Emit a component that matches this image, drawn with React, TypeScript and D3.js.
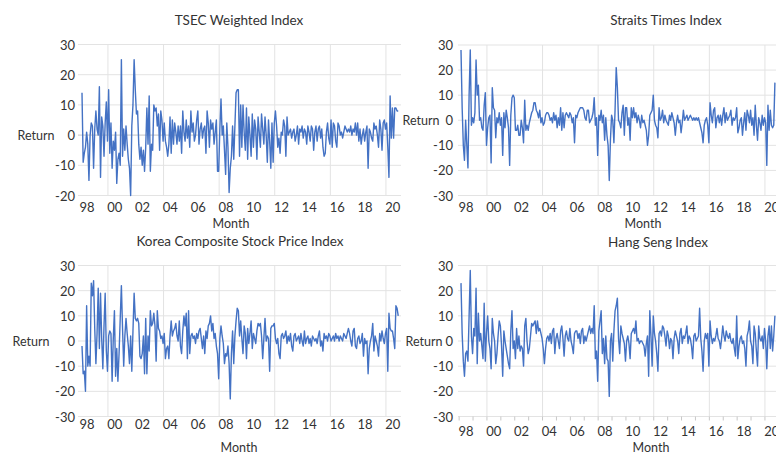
import React from "react";
import * as d3 from "d3";

// Monthly returns (%)
const tsecReturns: number[] = [
  14, -9, -6, -4, 1, -3, -15, 0, 4, 3, -11, 2,
  8, 2, 0, 16, -14, 6, 3, -7, 4, 11, -2, 15,
  -6, 4, -11, -2, -5, 1, -16, -8, -6, -10, 25, -7,
  2, -5, 3, -3, -8, -11, -20, 3, 10, 25, 15, 7,
  8, -3, -8, -4, -10, -5, -12, -4, 9, -3, 13, -12,
  -3, -5, 10, 8, 9, 3, 7, -5, 8, 5, -2, 4,
  -2, -4, -7, -3, 6, -6, 5, -3, 4, 1, -3, 3,
  -2, 3, -6, 8, 1, -2, 5, -1, 3, -4, 8, 1,
  4, -2, 0, 5, 8, -3, 2, 4, -1, 2, 3, -6,
  8, 4, -4, 5, 2, 4, -3, 1, 5, -12, -12, 2,
  12, 0, 3, -5, -13, 4, -4, -19, -11, -7, 3, -8,
  3, 14, 15, 15, -7, 10, -4, 10, 1, -5, 9, -8,
  6, 0, -7, 7, -4, 5, 2, -8, 6, 1, -4, 7,
  2, -3, 6, 0, -9, 5, -2, -11, 4, -9, 4, 8,
  3, -4, -1, -6, 1, 0, 5, 3, -7, 6, 0, 1,
  2, -1, 1, 2, -2, 0, 3, -3, 2, 1, 3, -1,
  2, 1, -3, 3, 1, -2, 3, 2, -5, 1, 3, -2,
  2, 3, -1, 2, -4, -7, -6, 1, 4, -1, -3, 5,
  -4, 4, 3, -2, -4, 4, 3, 0, 1, -1, 1, 3,
  2, 1, 2, 1, 3, 0, 2, 1, 4, 0, 4, -2,
  2, -3, 0, 2, -2, 1, 3, -11, 2, 1, -1, -2,
  4, 2, 3, 0, -4, 5, 2, -5, 4, 5, 2, 4,
  -4, -14, 13, -1, 9, -1, 9, 9, 8, 8,
];

const straitsReturns: number[] = [
  28, 5, -10, -16, 0, -10, -19, 10, 28, -2, 1, -1,
  3, 24, 10, 14, 0, 1, -3, -4, 6, 11, -10, -3,
  1, 2, -17, 13, 5, 4, -7, 1, -1, 3, -2, 1,
  -14, 3, -3, 4, 1, -3, -18, 2, 9, 10, 9, -4,
  -4, -2, -6, -6, 0, -3, -9, 8, -4, -2, -4, -1,
  1, 3, 4, 7, 7, 4, 3, 1, 4, -1, 1, -2,
  -1, 2, 3, 3, 2, 0, 1, -1, 3, 0, 2, -3,
  1, -2, 5, -4, 3, -3, 2, 3, 2, 1, 3, 2,
  -1, 1, -9, 2, 1, 3, 4, 5, 5, 5, 4, 1,
  0, 4, 4, -1, 0, 1, 3, 9, -2, 1, -14, 2,
  0, 4, -1, 2, -8, 1, -6, -10, -24, -8, 2, 0,
  -9, 4, 21, 13, 0, -1, -3, 3, 6, -6, 5, 5,
  -2, 1, -8, 5, 1, 5, 1, 3, -1, 2, 0, -3,
  2, -1, 0, -2, -4, -10, -6, 2, 3, 4, 10, 0,
  -2, -3, -7, 5, 0, 1, 4, -1, 2, 0, -1, -2,
  2, 0, 3, 1, -1, -6, -1, 2, -1, 0, -5, -1,
  4, 0, 1, 2, 0, 1, 2, 1, 0, 1, 0, 1,
  0, 1, -1, -3, -5, -9, -2, 0, 1, -2, -9, 7,
  2, -1, 4, 5, -3, 1, 2, -1, 2, -2, 2, 5,
  -1, 3, 0, 1, 2, 4, -2, 1, 0, 1, 5, -5,
  -3, 0, 1, -6, -1, 3, -4, 4, 2, -1, 4, -2,
  1, -6, 6, -2, -8, 1, -1, -4, 2, -2, 1, -1,
  -18, 6, -4, 4, -2, -3, -2, 15,
];

const koreaReturns: number[] = [
  -2, -13, -12, -20, 14, -10, -6, -10, 23, 18, 24, 5,
  -9, 3, 21, -3, 19, 1, -11, 6, 19, -4, -12, 2,
  4, 3, -16, 1, 12, -14, -3, -16, -5, 9, 22, 5,
  -10, 2, 9, 3, -2, -9, 2, -12, 4, 19, 9, 8,
  9, 7, -6, -7, -5, 2, -13, 9, -13, 2, -4, 12,
  6, 7, 11, 6, -8, 12, 5, 4, 1, 2, -1, 3,
  -7, -3, -2, -7, 2, 8, 2, 4, 5, 7, 2, 0,
  8, -2, -5, 4, 10, 6, 11, -7, 12, -5, 2, 3,
  1, 2, -1, 3, 1, 4, 5, 1, -3, 2, -5, 4,
  1, 6, 7, 10, 4, 7, 1, 3, -2, -5, -15, 1,
  6, 2, -1, -9, -5, -6, -2, -9, -23, -5, 4, -9,
  2, 8, 13, 12, 2, 8, 1, -5, 6, 3, -7, 5,
  -1, 3, 8, -3, 3, 1, -1, 4, 7, 6, 7, 2,
  -7, 1, 9, 0, 2, 1, -12, 5, 6, 6, 7, 1,
  -1, 1, -5, -7, 2, 3, 1, 2, 4, -1, 2, 0,
  3, -2, -4, 2, 3, 0, 1, 2, -1, 3, 0, -2,
  4, -1, 1, 2, -1, 1, -2, 2, 1, 0, 1, -1,
  2, 4, -2, 0, -4, 3, 1, 2, 0, 3, 2, 0,
  1, 2, 0, 3, 1, 2, 0, 2, 1, 0, 3, 2,
  1, 3, 5, 3, 0, -2, 4, 5, -2, -3, 1, 2,
  -1, 0, 3, -6, 1, -1, 0, -13, -3, 0, 2, 7,
  -4, 2, 0, -2, -6, 3, 0, 4, 1, -1, 3, 5,
  -12, 11, 5, 4, 4, 1, -3, 14, 13, 10,
];

const hangSengReturns: number[] = [
  23, 3, -8, -14, -5, -4, -8, 10, 28, 2, -5, 5,
  2, 21, -9, 11, 0, 3, -2, -7, 15, -8, 3, 10,
  0, -3, -11, 9, 3, 0, -9, -5, 2, 8, 6, -2,
  -14, 4, 0, -3, -6, -9, -11, 4, 12, -3, 0, -7,
  5, -3, 2, -4, -2, -3, -10, 6, 9, 0, -5, -3,
  2, 7, 6, 7, 8, 3, 8, 4, 5, 3, 1, -3,
  -9, -3, 1, 2, 0, 3, -1, 4, 5, -5, 1, 3,
  0, -3, 4, 6, 1, -6, 2, 4, 1, 0, 5, 0,
  -2, -5, 3, 4, 4, 1, 3, -1, 4, 5, -1, 2,
  0, 2, 4, 6, 3, 5, 3, 14, -7, -4, -16, 4,
  8, 12, -5, 1, -9, 2, -7, -8, -22, 0, 3, -8,
  4, 12, 14, 17, 1, -5, 6, 3, 1, -1, -8, 0,
  2, -1, -7, 3, 4, 5, 3, 8, 0, 1, -1, 0,
  0, -1, -2, -6, -1, 2, -14, 12, 2, -10, 10, 3,
  0, -5, -12, 3, 4, 2, 6, 5, 2, -2, 4, 2,
  -3, 1, 0, -7, 1, 4, 2, 0, -5, 3, 5, -1,
  2, 1, 3, 6, -1, 2, 1, -2, -7, 2, 3, 0,
  1, 2, 13, 1, -4, -12, 0, 3, 1, 3, -10, 8,
  2, -1, 1, 0, 2, 5, 1, 0, -3, 1, 6, 2,
  0, 4, 2, 1, 3, 0, -1, 1, -3, -6, 10, -7,
  -2, 1, 2, -1, 0, -3, -10, 2, 4, 8, 0, -2,
  -9, 6, 3, -4, -10, 6, 1, 0, 2, -3, 5, 0,
  -11, 2, 6, -3, 6, -4, 2, 10,
];

const yearLabels = ["98", "00", "02", "04", "06", "08", "10", "12", "14", "16", "18", "20"];
const ticksNarrow = [-20, -10, 0, 10, 20, 30];
const ticksWide = [-30, -20, -10, 0, 10, 20, 30];

const FONT = "Lato, 'Liberation Sans', Arial, sans-serif";
const LINE_COLOR = "#4472c4";
const GRID = "#e3e3e3";
const TEXT = "#333333";

type PanelProps = {
  id: string;
  title: string;
  data: number[];
  x0: number;
  gridLeft: number;
  clipRight: number;
  yMin: number;
  yMax: number;
  yTop: number;
  yBottom: number;
  ticks: number[];
  tickLabelX: number;
  titleX: number;
  titleY: number;
  returnX: number;
  xLabelY: number;
  monthX: number;
  monthY: number;
  zeroDark?: boolean;
  minorTicks?: boolean;
};

function Panel(p: PanelProps) {
  const x = d3.scaleLinear().domain([0, 48]).range([p.x0, p.x0 + 55.6]);
  const y = d3.scaleLinear().domain([p.yMin, p.yMax]).range([p.yBottom, p.yTop]);
  const path = d3
    .line<number>()
    .x((_, i) => x(i))
    .y((d) => y(d))(p.data) as string;
  const gridMonths = d3.range(6).map((k) => 22.4 + 48 * k);
  const labelMonths = yearLabels.map((_, k) => 4.3 + 24 * k);
  const minorMonths = d3.range(24).map((k) => -1.6 + 12 * k).filter((m) => x(m) < p.clipRight);
  return (
    <g>
      <defs>
        <clipPath id={p.id}>
          <rect x={0} y={0} width={p.clipRight} height={453} />
        </clipPath>
      </defs>
      <g clipPath={`url(#${p.id})`}>
        {p.ticks.map((t) => (
          <line
            key={"h" + t}
            x1={p.gridLeft}
            x2={p.clipRight}
            y1={y(t)}
            y2={y(t)}
            stroke={t === 0 && p.zeroDark ? "#c4c4c4" : GRID}
            strokeWidth={1}
          />
        ))}
        {gridMonths.map((m) => (
          <line key={"v" + m} x1={x(m)} x2={x(m)} y1={y(p.yMax)} y2={y(p.yMin)} stroke={GRID} strokeWidth={1} />
        ))}
        {p.minorTicks &&
          minorMonths.map((m) => (
            <line key={"t" + m} x1={x(m)} x2={x(m)} y1={y(p.yMin)} y2={y(p.yMin) + 4} stroke="#c8c8c8" strokeWidth={1} />
          ))}
        <path d={path} fill="none" stroke={LINE_COLOR} strokeWidth={1.4} strokeLinejoin="round" />
      </g>
      {p.ticks.map((t) => (
        <text
          key={"l" + t}
          x={p.tickLabelX}
          y={y(t)}
          textAnchor="end"
          dominantBaseline="central"
          fontSize={13}
          fill={TEXT}
          fontFamily={FONT}
        >
          {t}
        </text>
      ))}
      {yearLabels.map((lab, k) => (
        <text
          key={"x" + lab}
          x={x(labelMonths[k])}
          y={p.xLabelY}
          textAnchor="middle"
          dominantBaseline="central"
          fontSize={13}
          fill={TEXT}
          fontFamily={FONT}
        >
          {lab}
        </text>
      ))}
      <text x={p.titleX} y={p.titleY} textAnchor="middle" dominantBaseline="central" fontSize={13.5} fill={TEXT} fontFamily={FONT}>
        {p.title}
      </text>
      <text x={p.returnX} y={y(0)} textAnchor="middle" dominantBaseline="central" fontSize={12.5} fill={TEXT} fontFamily={FONT}>
        Return
      </text>
      <text x={p.monthX} y={p.monthY} textAnchor="middle" dominantBaseline="central" fontSize={12.5} fill={TEXT} fontFamily={FONT}>
        Month
      </text>
    </g>
  );
}

export default function App() {
  return (
    <svg
      width={776}
      height={453}
      viewBox="0 0 776 453"
      style={{ position: "absolute", left: 0, top: 0, background: "#ffffff" }}
    >
      <rect x={0} y={0} width={776} height={453} fill="#ffffff" />
      <Panel
        id="c1"
        title="TSEC Weighted Index"
        data={tsecReturns}
        x0={82}
        gridLeft={78}
        clipRight={401}
        yMin={-20}
        yMax={30}
        yTop={44.5}
        yBottom={195.5}
        ticks={ticksNarrow}
        tickLabelX={75}
        titleX={239}
        titleY={20}
        returnX={36}
        xLabelY={207}
        monthX={231}
        monthY={223}
        zeroDark
      />
      <Panel
        id="c2"
        title="Straits Times Index"
        data={straitsReturns}
        x0={461}
        gridLeft={458}
        clipRight={776}
        yMin={-30}
        yMax={30}
        yTop={45}
        yBottom={195.5}
        ticks={ticksWide}
        tickLabelX={453}
        titleX={666}
        titleY={20}
        returnX={421}
        xLabelY={207}
        monthX={643}
        monthY={223}
      />
      <Panel
        id="c3"
        title="Korea Composite Stock Price Index"
        data={koreaReturns}
        x0={82}
        gridLeft={78}
        clipRight={401}
        yMin={-30}
        yMax={30}
        yTop={265.5}
        yBottom={416.5}
        ticks={ticksWide}
        tickLabelX={75}
        titleX={240}
        titleY={241}
        returnX={31}
        xLabelY={424}
        monthX={239}
        monthY={447}
      />
      <Panel
        id="c4"
        title="Hang Seng Index"
        data={hangSengReturns}
        x0={461}
        gridLeft={458}
        clipRight={776}
        yMin={-30}
        yMax={30}
        yTop={265.5}
        yBottom={416.5}
        ticks={ticksWide}
        tickLabelX={453}
        titleX={658}
        titleY={242}
        returnX={424}
        xLabelY={431}
        monthX={651}
        monthY={447}
        minorTicks
      />
    </svg>
  );
}
